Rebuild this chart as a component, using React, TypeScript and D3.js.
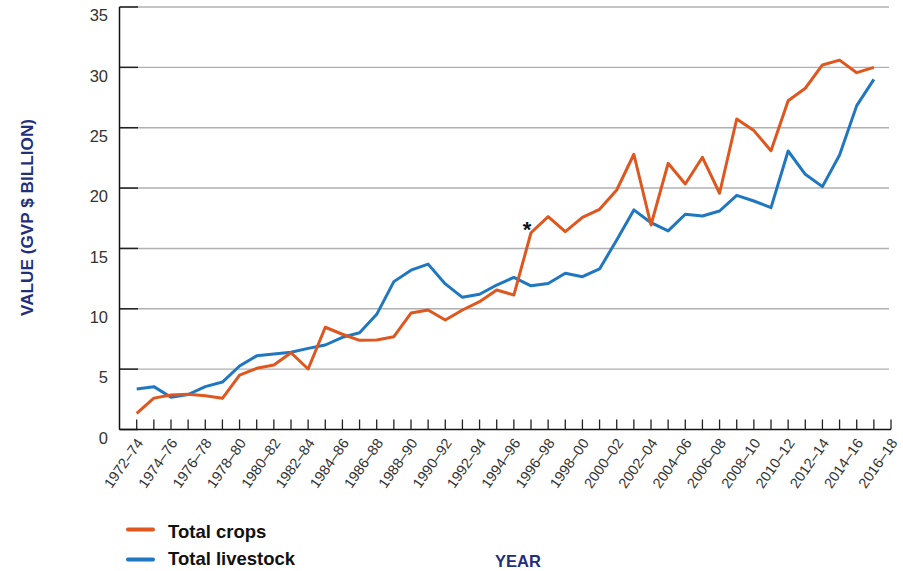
import { scaleLinear, line } from "d3";

const tickLabels = [
  "1972–74", "1974–76", "1976–78", "1978–80", "1980–82", "1982–84",
  "1984–86", "1986–88", "1988–90", "1990–92", "1992–94", "1994–96",
  "1996–98", "1998–00", "2000–02", "2002–04", "2004–06", "2006–08",
  "2008–10", "2010–12", "2012–14", "2014–16", "2016–18",
];

// GVP $ billion, one value per year
const crops = [
  1.34, 2.6, 2.86, 2.92, 2.8, 2.58, 4.5, 5.07, 5.34, 6.36, 5.01,
  8.47, 7.89, 7.39, 7.42, 7.69, 9.65, 9.9, 9.07, 9.9, 10.59, 11.56,
  11.14, 16.3, 17.63, 16.39, 17.58, 18.24, 19.84, 22.8, 16.94, 22.05,
  20.34, 22.55, 19.57, 25.72, 24.76, 23.1, 27.24, 28.27, 30.2, 30.6,
  29.56, 30.0,
];

const livestock = [
  3.35, 3.55, 2.67, 2.9, 3.55, 3.93, 5.26, 6.1, 6.25, 6.4, 6.72,
  7.0, 7.64, 8.02, 9.54, 12.25, 13.2, 13.7, 12.06, 10.95, 11.2, 11.97,
  12.6, 11.9, 12.1, 12.94, 12.66, 13.3, 15.7, 18.19, 17.13, 16.45,
  17.83, 17.69, 18.1, 19.4, 18.93, 18.38, 23.07, 21.14, 20.12, 22.74,
  26.83, 29.0,
];

const yTicks = [0, 5, 10, 15, 20, 25, 30, 35];
const markedIndex = 23; // the "*" point

const W = 903;
const H = 571;
const FONT = "'Liberation Sans', Arial, Helvetica, sans-serif";
const NAVY = "#1f2f7d";
const ORANGE = "#e0561f";
const BLUE = "#1f77c0";

const App = () => {
  const tickCount = tickLabels.length * 2 - 1; // 45 ticks
  const x = scaleLinear().domain([0, tickCount - 1]).range([136.7, 891]);
  const y = scaleLinear().domain([0, 35]).range([429.5, 7]);
  const axisX = 119.5;

  const makeLine = line<number>()
    .x((_, i) => x(i))
    .y((d) => y(d));

  return (
    <svg
      width={W}
      height={H}
      style={{ position: "absolute", left: 0, top: 0, background: "#fff" }}
      fontFamily={FONT}
    >
      {/* gridlines */}
      {yTicks.slice(1).map((t) => (
        <line
          key={"g" + t}
          x1={axisX}
          x2={889}
          y1={y(t)}
          y2={y(t)}
          stroke="#b0b0b0"
          strokeWidth={1.4}
        />
      ))}
      {/* y ticks and labels (labels sit a little below their tick) */}
      {yTicks.map((t) => (
        <g key={"y" + t}>
          <line x1={axisX} x2={138} y1={y(t)} y2={y(t)} stroke="#222" strokeWidth={1.5} />
          <text
            x={108}
            y={y(t) + 8.5}
            dy="0.35em"
            textAnchor="end"
            fontSize={16.5}
            fill="#333"
          >
            {t}
          </text>
        </g>
      ))}
      <line x1={axisX} x2={axisX} y1={y(35)} y2={y(0)} stroke="#111" strokeWidth={1.5} />
      <line x1={axisX} x2={891} y1={y(0)} y2={y(0)} stroke="#111" strokeWidth={1.5} />
      {/* x ticks */}
      {Array.from({ length: tickCount }, (_, i) => (
        <line key={"xt" + i} x1={x(i)} x2={x(i)} y1={y(0)} y2={y(0) - 10} stroke="#222" strokeWidth={1.3} />
      ))}
      {tickLabels.map((lab, k) => (
        <text
          key={lab}
          transform={`translate(${x(k * 2) + 3},${440}) rotate(-55)`}
          textAnchor="end"
          dy="0.35em"
          fontSize={14.5}
          fill="#333"
        >
          {lab}
        </text>
      ))}
      {/* series */}
      <path d={makeLine(livestock) ?? ""} fill="none" stroke={BLUE} strokeWidth={3} strokeLinejoin="round" />
      <path d={makeLine(crops) ?? ""} fill="none" stroke={ORANGE} strokeWidth={3} strokeLinejoin="round" />
      <text
        x={x(markedIndex) - 4}
        y={y(crops[markedIndex]) + 4}
        textAnchor="middle"
        fontSize={22}
        fontWeight="bold"
        fill="#111"
      >
        *
      </text>
      {/* axis titles */}
      <text
        transform="translate(33,217.5) rotate(-90)"
        textAnchor="middle"
        fontSize={17.2}
        fontWeight="bold"
        fill={NAVY}
      >
        VALUE (GVP $ BILLION)
      </text>
      <text x={518} y={566.5} textAnchor="middle" fontSize={16.5} fontWeight="bold" fill={NAVY}>
        YEAR
      </text>
      {/* legend */}
      <line x1={128} x2={153} y1={529.5} y2={529.5} stroke={ORANGE} strokeWidth={4} strokeLinecap="round" />
      <text x={168} y={538.3} fontSize={18.5} fontWeight="bold" fill="#111">
        Total crops
      </text>
      <line x1={128} x2={153} y1={559.5} y2={559.5} stroke={BLUE} strokeWidth={4} strokeLinecap="round" />
      <text x={168} y={565} fontSize={18.5} fontWeight="bold" fill="#111">
        Total livestock
      </text>
    </svg>
  );
};

export default App;
